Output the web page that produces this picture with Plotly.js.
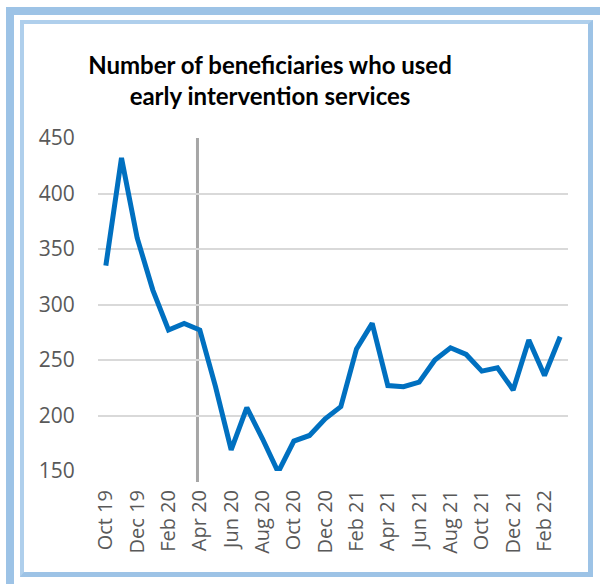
<!DOCTYPE html>
<html>
<head>
<meta charset="utf-8">
<script src="https://cdn.plot.ly/plotly-3.0.1.min.js"></script>
<style>
  html, body { margin: 0; padding: 0; background: #ffffff; }
  #wrap { position: relative; width: 600px; height: 584px; overflow: hidden; background: #ffffff; }
  #outer { position: absolute; left: 6px; top: 7px; width: 700px; height: 575px;
           border-left: 8px solid #9DC3E6; border-top: 8px solid #9DC3E6; border-bottom: 8px solid #9DC3E6; }
  #inner { position: absolute; left: 20px; top: 20px; width: 564px; height: 548px;
           border-left: 4px solid #AFCFEC; border-top: 4px solid #AFCFEC;
           border-right: 5px solid #9DC3E6; border-bottom: 5px solid #9DC3E6; background: #ffffff; }
  #chart { position: absolute; left: 0; top: 0; width: 600px; height: 584px; }
</style>
</head>
<body>
<div id="wrap">
  <div id="outer"></div>
  <div id="inner"></div>
  <div id="chart"></div>
</div>
<script>
const months = ["Oct 19","Nov 19","Dec 19","Jan 20","Feb 20","Mar 20","Apr 20","May 20","Jun 20","Jul 20",
                "Aug 20","Sep 20","Oct 20","Nov 20","Dec 20","Jan 21","Feb 21","Mar 21","Apr 21","May 21",
                "Jun 21","Jul 21","Aug 21","Sep 21","Oct 21","Nov 21","Dec 21","Jan 22","Feb 22","Mar 22"];
const beneficiaries = [335, 432, 360, 313, 277, 283, 277, 226, 169, 207,
                       179, 149, 177, 182, 197, 208, 260, 283, 227, 226,
                       230, 250, 261, 255, 240, 243, 223, 268, 236, 271];
const tickLabels = ["Oct 19","Dec 19","Feb 20","Apr 20","Jun 20","Aug 20","Oct 20","Dec 20",
                    "Feb 21","Apr 21","Jun 21","Aug 21","Oct 21","Dec 21","Feb 22"];
const yTicks = [150, 200, 250, 300, 350, 400, 450];
const markerPosition = 5.85;

const trace = {
  x: months,
  y: beneficiaries,
  type: 'scatter',
  mode: 'lines',
  line: { color: '#0070C0', width: 5 },
  cliponaxis: false,
  hoverinfo: 'x+y'
};

const layout = {
  width: 600, height: 584,
  margin: { l: 98, r: 32, t: 138, b: 113 },
  paper_bgcolor: 'rgba(0,0,0,0)',
  plot_bgcolor: 'rgba(0,0,0,0)',
  showlegend: false,
  title: {
    text: '<b>Number of beneficiaries who used<br>early intervention services</b>',
    font: { family: 'Lato, sans-serif', size: 24, color: '#000000' },
    x: 270/600, xanchor: 'center', xref: 'container',
    y: 1 - 74/584, yanchor: 'top', yref: 'container'
  },
  xaxis: {
    type: 'category',
    categoryorder: 'array',
    categoryarray: months,
    range: [-0.5, months.length - 0.5],
    tickmode: 'array',
    tickvals: tickLabels,
    ticktext: tickLabels,
    tickangle: -90,
    ticks: 'outside', ticklen: 10, tickcolor: 'rgba(0,0,0,0)',
    tickfont: { family: 'Open Sans, sans-serif', size: 20, color: '#595959' },
    showgrid: false, zeroline: false, showline: false
  },
  yaxis: {
    range: [150, 450],
    tickmode: 'array',
    tickvals: yTicks,
    ticks: 'outside', ticklen: 18, tickcolor: 'rgba(0,0,0,0)',
    tickfont: { family: 'Open Sans, sans-serif', size: 21, color: '#595959' },
    showgrid: true, gridcolor: '#D9D9D9', gridwidth: 2,
    zeroline: false, showline: false
  },
  shapes: [{
    type: 'line', xref: 'x', yref: 'paper',
    x0: markerPosition, x1: markerPosition, y0: -0.033, y1: 1,
    line: { color: '#A6A6A6', width: 3 },
    layer: 'below'
  }]
};

Plotly.newPlot('chart', [trace], layout, { displayModeBar: false, staticPlot: true });
</script>
</body>
</html>
